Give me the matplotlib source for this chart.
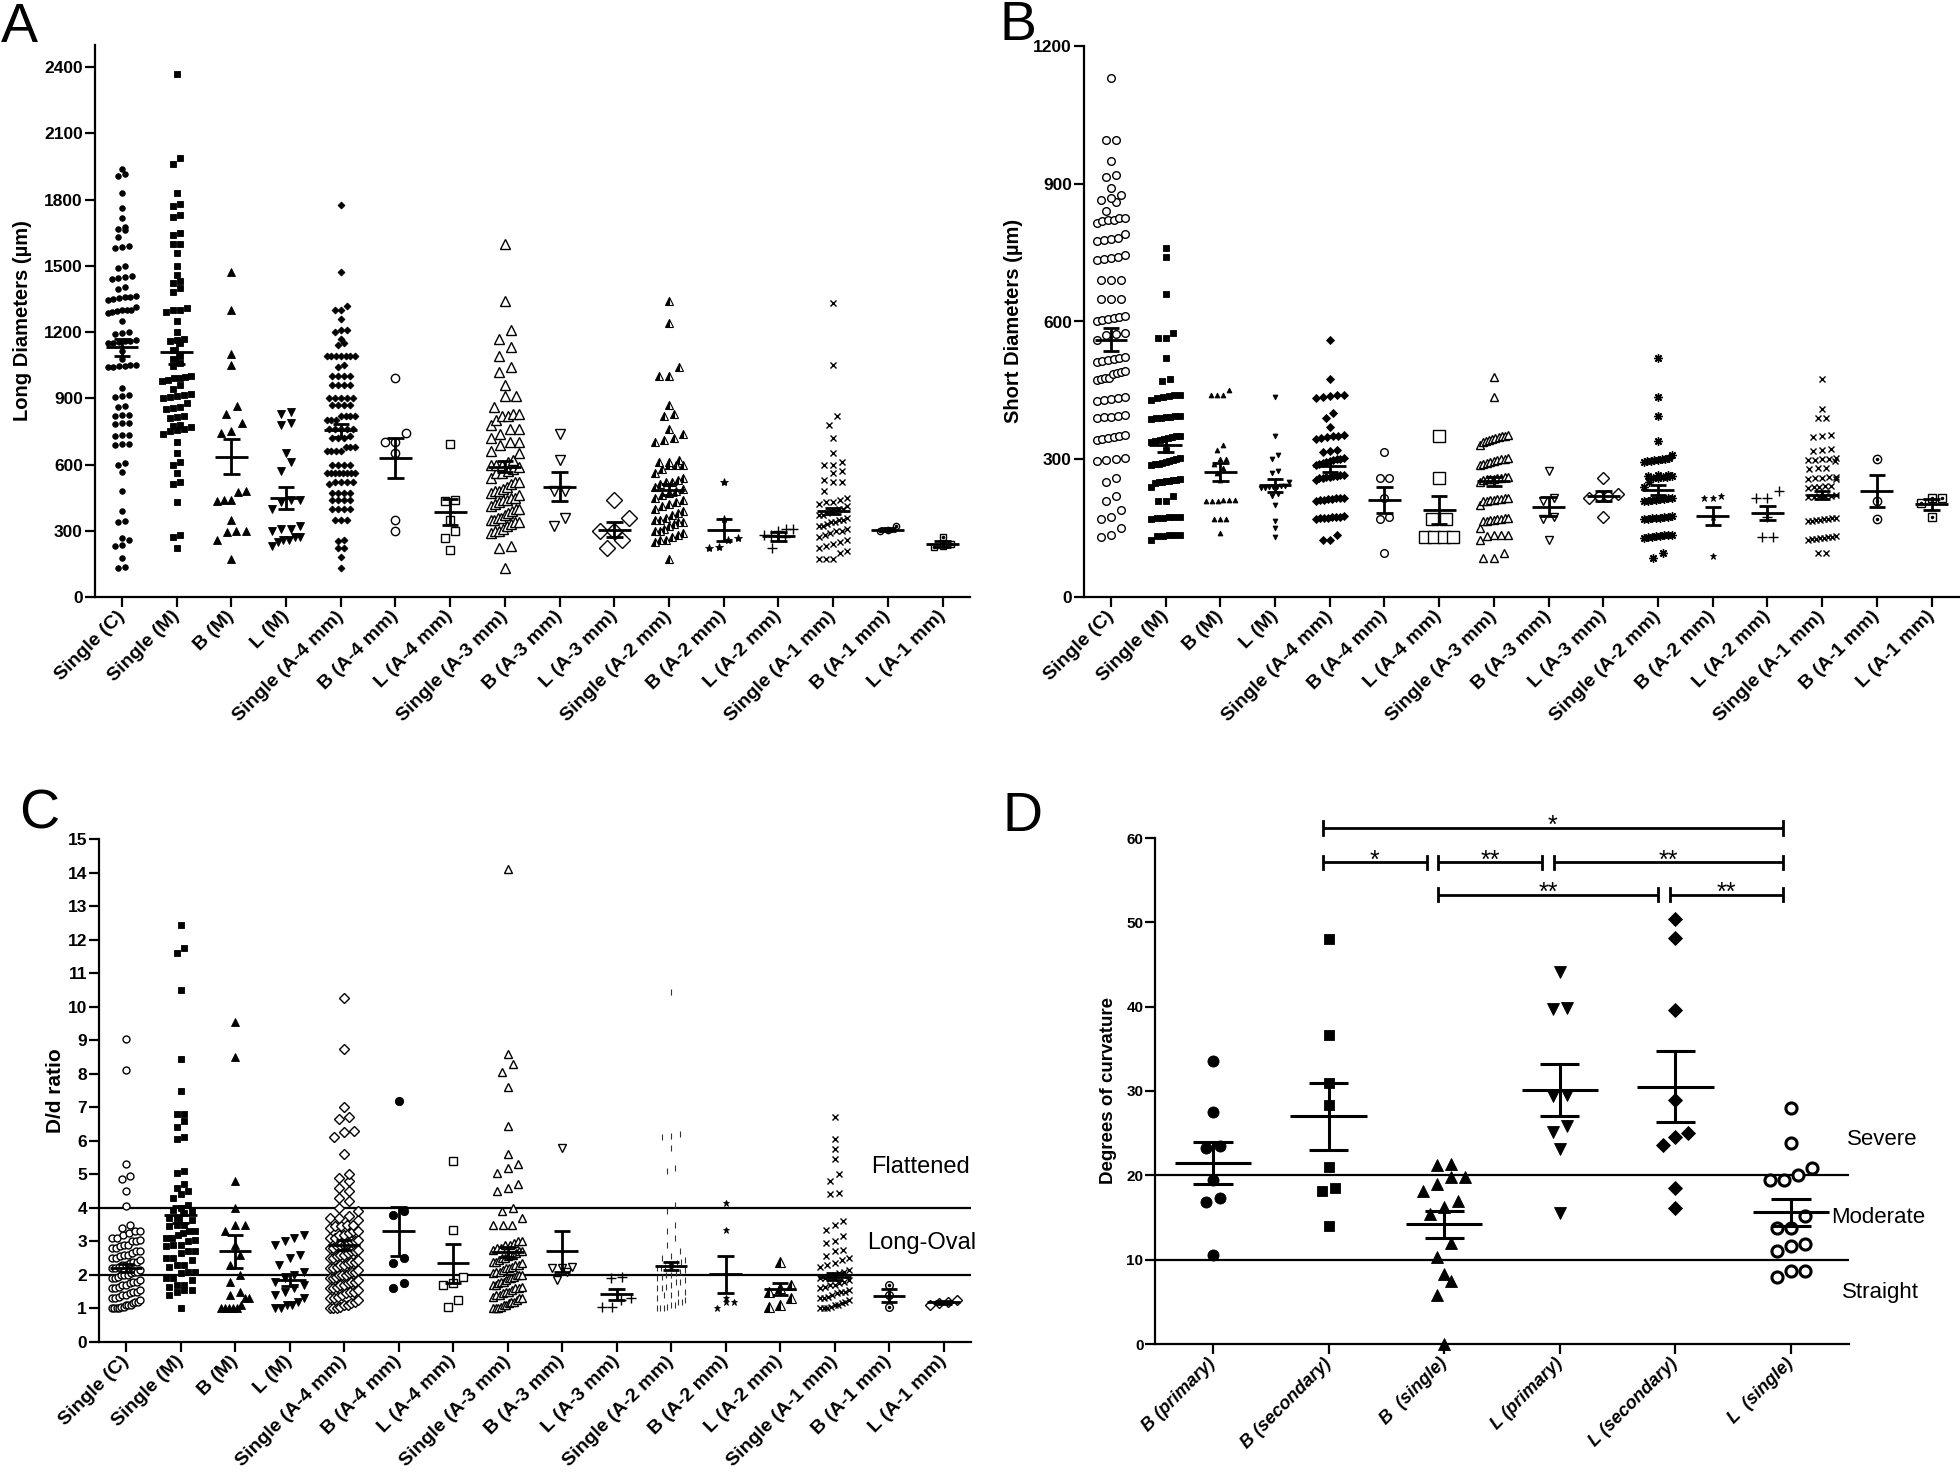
import numpy as np
import matplotlib
matplotlib.use("Agg")
import matplotlib.pyplot as plt

plt.rcParams['font.family'] = ['Liberation Sans', 'DejaVu Sans']

W, H = 1960, 1477

# ---- category labels ----
labels16 = ['Single (C)', 'Single (M)', 'B (M)', 'L (M)', 'Single (A-4 mm)', 'B (A-4 mm)',
            'L (A-4 mm)', 'Single (A-3 mm)', 'B (A-3 mm)', 'L (A-3 mm)', 'Single (A-2 mm)',
            'B (A-2 mm)', 'L (A-2 mm)', 'Single (A-1 mm)', 'B (A-1 mm)', 'L (A-1 mm)']
labels_d = ['B (primary)', 'B (secondary)', 'B  (single)', 'L (primary)', 'L (secondary)', 'L  (single)']

# ---- panel A: long diameters (um) ----
long_single_c = [1940, 1915, 1905, 1830, 1760, 1715, 1675, 1665, 1660, 1630, 1590, 1585, 1580, 1500, 1490,
                 1455, 1450, 1445, 1440, 1405, 1395, 1365, 1360, 1360, 1355, 1350, 1345, 1315, 1300, 1300,
                 1300, 1295, 1290, 1285, 1250, 1200, 1195, 1190, 1165, 1160, 1160, 1155, 1150, 1150, 1115,
                 1080, 1050, 1050, 1045, 1045, 1040, 1040, 945, 915, 910, 905, 865, 860, 825, 825, 820, 790,
                 790, 785, 735, 735, 730, 695, 695, 690, 605, 600, 565, 480, 390, 345, 340, 265, 260, 235,
                 230, 175, 135, 130]
long_single_m = [2370, 1990, 1960, 1830, 1780, 1770, 1730, 1720, 1650, 1640, 1600, 1600, 1560, 1500, 1460,
                 1430, 1420, 1400, 1380, 1310, 1300, 1300, 1290, 1250, 1200, 1170, 1165, 1160, 1150, 1120,
                 1090, 1080, 1060, 1045, 1000, 995, 990, 990, 985, 980, 960, 940, 920, 915, 910, 905, 900,
                 880, 860, 855, 850, 820, 815, 810, 780, 775, 770, 760, 755, 750, 740, 700, 650, 610, 600,
                 560, 520, 510, 430, 280, 270, 220]
long_b_m = [1470, 1300, 1100, 1050, 865, 830, 790, 750, 745, 480, 475, 440, 440, 435, 350, 300, 300, 295, 260, 170]
long_l_m = [840, 830, 790, 780, 650, 610, 570, 440, 440, 430, 400, 320, 310, 310, 300, 270, 270, 260, 260, 250, 230]
long_single_a4 = [1775, 1470, 1320, 1300, 1300, 1260, 1210, 1210, 1200, 1170, 1150, 1140, 1090, 1090, 1090,
                  1090, 1090, 1090, 1090, 1050, 1040, 1000, 1000, 1000, 1000, 960, 960, 960, 960, 900, 900,
                  900, 900, 900, 870, 870, 870, 870, 820, 820, 820, 820, 800, 800, 800, 760, 760, 760, 760,
                  760, 730, 720, 720, 720, 680, 680, 680, 660, 660, 660, 660, 600, 600, 600, 600, 560, 560,
                  560, 560, 560, 560, 560, 560, 520, 520, 520, 520, 510, 470, 470, 470, 470, 440, 440, 440,
                  440, 400, 400, 400, 400, 350, 350, 350, 260, 255, 220, 220, 180, 130]
long_b_a4 = [990, 745, 700, 700, 650, 350, 300]
long_l_a4 = [695, 440, 435, 350, 300, 265, 215]
long_single_a3 = [1600, 1340, 1210, 1170, 1130, 1090, 1040, 1020, 960, 910, 910, 860, 830, 830, 820, 820,
                  800, 780, 760, 760, 740, 720, 700, 700, 690, 660, 650, 620, 610, 600, 600, 600, 590, 580,
                  570, 560, 560, 540, 520, 520, 510, 500, 490, 480, 480, 470, 460, 450, 450, 440, 440, 430,
                  420, 410, 400, 400, 390, 380, 370, 360, 360, 350, 350, 340, 340, 330, 320, 310, 300, 300,
                  290, 230, 220, 130]
long_b_a3 = [740, 620, 480, 480, 360, 320]
long_l_a3 = [440, 360, 300, 300, 260, 220]
long_single_a2 = [1340, 1240, 1040, 1000, 1000, 870, 830, 820, 760, 740, 720, 710, 700, 620, 610, 610, 600,
                  600, 600, 580, 560, 540, 530, 520, 520, 510, 500, 490, 480, 470, 460, 450, 440, 430, 420,
                  410, 400, 390, 380, 370, 360, 350, 350, 340, 340, 330, 320, 310, 300, 300, 290, 280, 270,
                  260, 260, 250, 170]
long_b_a2 = [520, 355, 265, 260, 225, 220]
long_l_a2 = [310, 310, 300, 280, 280, 270, 220]
long_single_a1 = [1330, 1050, 820, 780, 720, 650, 610, 600, 600, 570, 560, 530, 520, 520, 480, 450, 440, 430,
                  430, 420, 410, 400, 400, 390, 390, 380, 370, 370, 360, 350, 350, 340, 340, 330, 320, 320,
                  310, 300, 300, 290, 280, 270, 260, 250, 240, 230, 220, 210, 200, 170, 170, 170]
long_b_a1 = [320, 305, 300]
long_l_a1 = [270, 240, 230, 225]
long_mean = [1130, 1110, 635, 450, 755, 630, 385, 590, 500, 305, 485, 305, 275, 390, 305, 240]
long_sem = [40, 55, 80, 50, 30, 90, 60, 25, 65, 35, 25, 50, 20, 15, 8, 12]

# ---- panel B: short diameters (um) ----
short_single_c = [1130, 995, 995, 950, 915, 920, 890, 875, 870, 865, 860, 840, 825, 825, 822, 820, 818, 815,
                  790, 782, 780, 778, 775, 745, 740, 738, 736, 734, 690, 690, 690, 650, 650, 650, 612, 610,
                  608, 606, 604, 600, 575, 572, 570, 560, 522, 520, 518, 516, 514, 512, 492, 490, 488, 486,
                  478, 476, 474, 472, 435, 433, 431, 429, 427, 397, 395, 393, 391, 389, 352, 350, 348, 346,
                  344, 342, 302, 300, 298, 296, 260, 250, 220, 210, 190, 175, 170, 150, 135, 130]
short_single_m = [760, 740, 660, 575, 565, 565, 520, 475, 470, 440, 440, 438, 436, 434, 430, 395, 395, 393,
                  391, 389, 387, 390, 350, 350, 348, 346, 344, 342, 340, 338, 320, 302, 300, 298, 296, 294,
                  292, 290, 288, 290, 256, 255, 254, 253, 252, 251, 250, 249, 240, 220, 210, 210, 175, 175,
                  174, 173, 172, 170, 135, 135, 134, 133, 132, 125]
short_b_m = [450, 440, 440, 440, 330, 320, 300, 300, 290, 280, 270, 255, 212, 212, 211, 210, 210, 209, 170,
             170, 170, 140]
short_l_m = [435, 350, 310, 300, 275, 270, 250, 242, 241, 240, 240, 239, 238, 237, 225, 220, 200, 165, 150, 130]
short_single_a4 = [560, 475, 440, 440, 438, 436, 434, 400, 390, 370, 352, 350, 350, 348, 346, 344, 320, 318,
                   316, 302, 300, 300, 298, 296, 294, 292, 290, 288, 266, 265, 264, 263, 262, 261, 260, 259,
                   255, 216, 215, 215, 214, 213, 212, 211, 210, 176, 175, 175, 174, 173, 172, 171, 170, 135,
                   125, 125]
short_b_a4 = [315, 260, 260, 215, 175, 170, 95]
short_l_a4 = [350, 260, 170, 170, 130, 130, 130, 130]
short_single_a3 = [480, 435, 352, 350, 350, 348, 346, 344, 342, 340, 338, 330, 302, 300, 300, 298, 296, 294,
                   292, 290, 288, 262, 261, 260, 259, 258, 257, 256, 255, 250, 216, 215, 214, 213, 212, 211,
                   210, 209, 200, 172, 171, 170, 169, 168, 167, 166, 165, 150, 136, 135, 134, 133, 125, 95,
                   85, 85]
short_b_a3 = [275, 215, 210, 175, 170, 125]
short_l_a3 = [260, 225, 220, 220, 215, 175]
short_single_a2 = [520, 435, 395, 340, 310, 302, 301, 300, 299, 298, 297, 296, 295, 266, 265, 264, 263, 262,
                   261, 260, 259, 250, 240, 216, 215, 214, 213, 212, 211, 210, 209, 176, 175, 174, 173, 172,
                   171, 170, 169, 136, 135, 134, 133, 132, 131, 130, 129, 95, 85]
short_b_a2 = [220, 215, 215, 175, 90]
short_l_a2 = [230, 215, 215, 175, 130, 130]
short_single_a1 = [475, 410, 390, 390, 352, 350, 348, 322, 320, 318, 302, 301, 300, 299, 298, 297, 282, 280,
                   278, 262, 261, 260, 259, 258, 257, 242, 241, 240, 239, 238, 222, 221, 220, 219, 218, 217,
                   172, 171, 170, 169, 168, 167, 166, 165, 132, 131, 130, 129, 128, 127, 126, 125, 95, 95]
short_b_a1 = [300, 210, 170]
short_l_a1 = [215, 215, 205, 175]
short_mean = [560, 330, 272, 243, 285, 212, 190, 252, 197, 220, 233, 177, 183, 222, 230, 202]
short_sem = [25, 15, 20, 15, 12, 28, 30, 10, 20, 10, 10, 20, 15, 8, 35, 12]

# ---- panel C: D/d ratio ----
ratio_single_c = [9.05, 8.1, 5.3, 4.95, 4.85, 4.5, 4.05, 3.5, 3.4, 3.3, 3.3, 3.25, 3.2, 3.1, 3.1, 3.05, 3.0,
                  3.0, 2.9, 2.9, 2.85, 2.8, 2.8, 2.7, 2.7, 2.65, 2.6, 2.6, 2.55, 2.5, 2.5, 2.45, 2.4, 2.4, 2.35,
                  2.3, 2.3, 2.25, 2.2, 2.2, 2.15, 2.1, 2.1, 2.05, 2.0, 2.0, 2.0, 1.95, 1.9, 1.9, 1.85, 1.8,
                  1.8, 1.75, 1.7, 1.7, 1.65, 1.6, 1.6, 1.55, 1.5, 1.5, 1.45, 1.4, 1.4, 1.35, 1.3, 1.3, 1.25,
                  1.2, 1.2, 1.15, 1.1, 1.1, 1.1, 1.05, 1.05, 1.0, 1.0, 1.0, 1.0]
ratio_single_m = [12.45, 11.75, 11.6, 10.5, 8.45, 7.5, 6.8, 6.8, 6.6, 6.4, 6.1, 6.05, 5.1, 5.05, 4.7, 4.6,
                  4.5, 4.4, 4.3, 4.1, 4.0, 3.95, 3.9, 3.85, 3.7, 3.7, 3.65, 3.5, 3.5, 3.45, 3.3, 3.3, 3.25,
                  3.2, 3.1, 3.1, 3.05, 3.0, 2.9, 2.9, 2.85, 2.7, 2.7, 2.65, 2.5, 2.5, 2.45, 2.3, 2.3, 2.25,
                  2.1, 2.1, 2.05, 1.9, 1.9, 1.85, 1.7, 1.7, 1.65, 1.55, 1.55, 1.5, 1.4, 1.0]
ratio_b_m = [9.55, 8.5, 4.8, 4.0, 3.5, 3.5, 3.3, 2.9, 2.6, 2.3, 2.0, 1.8, 1.5, 1.4, 1.3, 1.3, 1.1, 1.0, 1.0,
             1.0, 1.0, 1.0]
ratio_l_m = [3.2, 3.1, 3.0, 2.9, 2.6, 2.5, 2.3, 2.1, 2.0, 1.9, 1.8, 1.7, 1.6, 1.5, 1.4, 1.3, 1.2, 1.1, 1.1,
             1.0, 1.0]
ratio_single_a4 = [10.25, 8.75, 7.0, 6.7, 6.65, 6.3, 6.25, 6.1, 5.6, 5.0, 4.9, 4.8, 4.6, 4.5, 4.3, 4.2, 4.0,
                   3.9, 3.75, 3.7, 3.7, 3.65, 3.5, 3.5, 3.45, 3.45, 3.4, 3.3, 3.3, 3.25, 3.2, 3.2, 3.1, 3.1,
                   3.05, 3.0, 3.0, 2.95, 2.9, 2.9, 2.85, 2.8, 2.8, 2.75, 2.7, 2.7, 2.65, 2.6, 2.6, 2.55, 2.5,
                   2.5, 2.45, 2.4, 2.4, 2.35, 2.3, 2.3, 2.25, 2.2, 2.2, 2.15, 2.1, 2.1, 2.05, 2.0, 2.0, 2.0,
                   1.95, 1.9, 1.9, 1.85, 1.8, 1.8, 1.75, 1.7, 1.7, 1.65, 1.6, 1.6, 1.55, 1.5, 1.5, 1.45, 1.4,
                   1.35, 1.3, 1.3, 1.25, 1.2, 1.15, 1.1, 1.1, 1.05, 1.0, 1.0, 1.0]
ratio_b_a4 = [7.2, 3.9, 3.8, 2.5, 2.35, 1.75, 1.6]
ratio_l_a4 = [5.4, 3.35, 1.95, 1.75, 1.7, 1.25, 1.05]
ratio_single_a3 = [14.1, 8.6, 8.3, 8.05, 7.6, 6.45, 5.6, 5.3, 5.2, 5.05, 4.7, 4.6, 4.5, 4.0, 3.9, 3.7, 3.5,
                   3.5, 3.5, 3.0, 3.0, 2.95, 2.9, 2.9, 2.8, 2.8, 2.75, 2.7, 2.7, 2.65, 2.6, 2.6, 2.55, 2.5,
                   2.5, 2.45, 2.4, 2.4, 2.35, 2.3, 2.3, 2.25, 2.2, 2.2, 2.15, 2.1, 2.1, 2.05, 2.0, 2.0, 2.0,
                   1.95, 1.9, 1.9, 1.85, 1.8, 1.8, 1.75, 1.7, 1.7, 1.65, 1.6, 1.6, 1.55, 1.5, 1.5, 1.45, 1.4,
                   1.4, 1.35, 1.3, 1.3, 1.25, 1.2, 1.2, 1.15, 1.1, 1.1, 1.05, 1.0, 1.0, 1.0]
ratio_b_a3 = [5.8, 2.25, 2.2, 2.2, 2.1, 1.85]
ratio_l_a3 = [1.95, 1.9, 1.3, 1.25, 1.05, 1.05]
ratio_single_a2 = [10.45, 6.2, 6.15, 6.1, 5.8, 5.2, 5.1, 4.1, 3.9, 3.5, 3.3, 3.1, 2.9, 2.7, 2.55, 2.5, 2.45,
                   2.4, 2.35, 2.3, 2.3, 2.25, 2.2, 2.2, 2.15, 2.1, 2.05, 2.0, 2.0, 1.95, 1.9, 1.85, 1.8, 1.8,
                   1.7, 1.65, 1.6, 1.6, 1.5, 1.45, 1.4, 1.4, 1.3, 1.25, 1.2, 1.2, 1.1, 1.1, 1.05, 1.0, 1.0,
                   1.0]
ratio_b_a2 = [4.15, 3.35, 1.3, 1.2, 1.2, 1.0]
ratio_l_a2 = [2.4, 1.7, 1.6, 1.5, 1.3, 1.1, 1.05]
ratio_single_a1 = [6.7, 6.05, 5.75, 5.45, 5.0, 4.8, 4.45, 4.4, 3.6, 3.5, 3.35, 3.15, 3.0, 2.95, 2.75, 2.7,
                   2.55, 2.5, 2.45, 2.35, 2.3, 2.25, 2.15, 2.1, 2.05, 2.0, 1.95, 1.9, 1.9, 1.85, 1.8, 1.75,
                   1.7, 1.7, 1.65, 1.6, 1.55, 1.5, 1.5, 1.45, 1.4, 1.35, 1.3, 1.3, 1.25, 1.2, 1.15, 1.1, 1.1,
                   1.05, 1.0, 1.0, 1.0]
ratio_b_a1 = [1.7, 1.4, 1.05]
ratio_l_a1 = [1.25, 1.2, 1.15, 1.1]
ratio_mean = [2.2, 3.8, 2.7, 1.85, 2.9, 3.3, 2.35, 2.68, 2.7, 1.42, 2.28, 2.02, 1.57, 1.95, 1.38, 1.18]
ratio_sem = [0.12, 0.25, 0.5, 0.17, 0.15, 0.73, 0.58, 0.15, 0.62, 0.17, 0.12, 0.55, 0.18, 0.1, 0.2, 0.04]
ratio_cutoffs = [2, 4]

# ---- panel D: degrees of curvature ----
curv_b_primary = [33.6, 27.5, 23.5, 23.3, 19.5, 17.3, 16.8, 10.5]
curv_b_secondary = [48.0, 36.6, 30.9, 28.3, 21.0, 18.5, 18.2, 14.0]
curv_b_single = [21.4, 21.2, 19.8, 19.8, 19.0, 18.1, 17.0, 16.3, 15.4, 12.0, 10.3, 8.3, 7.5, 5.8, 0.0]
curv_l_primary = [44.1, 39.7, 39.8, 29.5, 29.4, 25.9, 25.1, 23.1, 15.5]
curv_l_secondary = [50.4, 48.1, 39.6, 28.9, 25.0, 24.5, 23.6, 18.5, 16.1]
curv_l_single = [28.0, 23.8, 20.9, 20.0, 19.5, 19.5, 15.2, 13.8, 13.8, 11.9, 11.6, 11.0, 8.7, 8.6, 8.0]
curv_mean = [21.5, 27.0, 14.2, 30.1, 30.5, 15.6]
curv_sem = [2.5, 4.0, 1.6, 3.1, 4.2, 1.6]
curv_cutoffs = [10, 20]
# comparisons: (from group, to group, label, row level in degrees)
curv_tests = [(1, 5, '*', 61.2), (1, 2, '*', 57.1), (2, 3, '**', 57.1), (3, 5, '**', 57.1),
              (2, 4, '**', 53.3), (4, 5, '**', 53.3)]

long_groups = [long_single_c, long_single_m, long_b_m, long_l_m, long_single_a4, long_b_a4, long_l_a4,
               long_single_a3, long_b_a3, long_l_a3, long_single_a2, long_b_a2, long_l_a2, long_single_a1,
               long_b_a1, long_l_a1]
short_groups = [short_single_c, short_single_m, short_b_m, short_l_m, short_single_a4, short_b_a4,
                short_l_a4, short_single_a3, short_b_a3, short_l_a3, short_single_a2, short_b_a2,
                short_l_a2, short_single_a1, short_b_a1, short_l_a1]
ratio_groups = [ratio_single_c, ratio_single_m, ratio_b_m, ratio_l_m, ratio_single_a4, ratio_b_a4,
                ratio_l_a4, ratio_single_a3, ratio_b_a3, ratio_l_a3, ratio_single_a2, ratio_b_a2,
                ratio_l_a2, ratio_single_a1, ratio_b_a1, ratio_l_a1]
curv_groups = [curv_b_primary, curv_b_secondary, curv_b_single, curv_l_primary, curv_l_secondary,
               curv_l_single]

# marker styles: (marker, size, kind)
style_a = [('o', 4, 'fill'), ('s', 4, 'fill'), ('^', 6, 'fill'), ('v', 6, 'fill'), ('D', 3.5, 'fill'),
           ('o', 6, 'open'), ('s', 6, 'open'), ('^', 6.5, 'open'), ('v', 6.5, 'open'), ('D', 8.5, 'open'),
           ('^', 6, 'half'), ('*', 6, 'fill'), ('+', 7, 'line'), ('x', 5, 'line'), ('o', 4.5, 'dot'),
           ('s', 5, 'dot')]
style_b = [('o', 5.5, 'open'), ('s', 4.5, 'fill'), ('^', 3.5, 'fill'), ('v', 3.5, 'fill'), ('D', 4, 'fill'),
           ('o', 5.5, 'open'), ('s', 8, 'open'), ('^', 6, 'open'), ('v', 6, 'open'), ('D', 6, 'open'),
           ((8, 2, 0), 6, 'line'), ('*', 5, 'fill'), ('+', 6.5, 'line'), ('x', 5, 'line'), ('o', 6, 'dot'),
           ('s', 6, 'dot')]
style_c = [('o', 5, 'open'), ('s', 4.5, 'fill'), ('^', 6, 'fill'), ('v', 6, 'fill'), ('D', 5.5, 'open'),
           ('o', 6, 'fill'), ('s', 6, 'open'), ('^', 6, 'open'), ('v', 6, 'open'), ('+', 6.5, 'line'),
           ('|', 5, 'thin'), ('*', 5, 'fill'), ('^', 6.5, 'half'), ('x', 5, 'line'), ('o', 5.5, 'dot'),
           ('D', 5, 'open')]
style_d = [('o', 8, 'fill'), ('s', 7.5, 'fill'), ('^', 8, 'fill'), ('v', 8, 'fill'), ('D', 7, 'fill'),
           ('o', 8, 'thick')]


def rect(l, r, t, b):
    return [l / W, 1 - b / H, (r - l) / W, (b - t) / H]


def swarm(vals, binw, dx, maxhw):
    v = np.sort(np.asarray(vals, float))
    xs = np.zeros(len(v))
    i = 0
    while i < len(v):
        j = i
        while j + 1 < len(v) and v[j + 1] - v[i] < binw:
            j += 1
        n = j - i + 1
        step = dx
        if n > 1 and (n - 1) * dx > 2 * maxhw:
            step = 2 * maxhw / (n - 1)
        xs[i:j + 1] = (np.arange(n) - (n - 1) / 2) * step
        i = j + 1
    return xs, v


def draw_points(ax, x, y, st):
    m, ms, kind = st
    kw = dict(ls='none', marker=m, ms=ms, clip_on=False, zorder=3)
    if kind == 'fill':
        ax.plot(x, y, mfc='k', mec='k', mew=0.6, **kw)
    elif kind == 'open':
        ax.plot(x, y, mfc='white', mec='k', mew=1.0, **kw)
    elif kind == 'thick':
        ax.plot(x, y, mfc='white', mec='k', mew=2.2, **kw)
    elif kind == 'half':
        ax.plot(x, y, mfc='k', mfcalt='white', fillstyle='left', mec='k', mew=0.8, **kw)
    elif kind == 'dot':
        ax.plot(x, y, mfc='white', mec='k', mew=1.0, **kw)
        ax.plot(x, y, ls='none', marker='o', ms=1.5, mfc='k', mec='k', clip_on=False, zorder=4)
    elif kind == 'thin':
        ax.plot(x, y, mec='#333333', mew=0.8, **kw)
    else:
        ax.plot(x, y, mec='k', mew=1.0, **kw)


def panel(ax, groups, means, sems, styles, labels, ylim, yticks, px_per_unit, units_per_px,
          xfs, yfs, italic=False, mhw=0.3, chw=0.15, lw=2.0):
    for i, vals in enumerate(groups):
        st = styles[i]
        mpx = st[1] * 1.39
        xo, yv = swarm(vals, mpx * 1.3 * units_per_px, mpx * 1.25 / px_per_unit, 0.26)
        draw_points(ax, i + xo, yv, st)
        m, s = means[i], sems[i]
        ax.plot([i - mhw, i + mhw], [m, m], color='k', lw=lw, zorder=5, solid_capstyle='butt')
        ax.plot([i, i], [m - s, m + s], color='k', lw=lw, zorder=5, solid_capstyle='butt')
        for yy in (m - s, m + s):
            ax.plot([i - chw, i + chw], [yy, yy], color='k', lw=lw, zorder=5, solid_capstyle='butt')
    ax.set_xlim(-0.5, len(groups) - 0.5)
    ax.set_ylim(*ylim)
    ax.set_xticks(range(len(groups)))
    ax.set_xticklabels(labels, rotation=45, ha='right', va='center', rotation_mode='anchor',
                       fontsize=xfs, fontweight='bold', fontstyle='italic' if italic else 'normal')
    ax.set_yticks(yticks)
    ax.set_yticklabels([str(t) for t in yticks], fontsize=yfs, fontweight='bold')
    for sp in ('top', 'right'):
        ax.spines[sp].set_visible(False)
    for sp in ('left', 'bottom'):
        ax.spines[sp].set_linewidth(1.6)
    ax.tick_params(direction='out', length=7, width=1.6, pad=1.5)
    ax.tick_params(axis='x', pad=5)
    ax.patch.set_visible(False)


fig = plt.figure(figsize=(W / 100, H / 100), dpi=100)

# A
axA = fig.add_axes(rect(94.6, 969.9, 45, 597))
panel(axA, long_groups, long_mean, long_sem, style_a, labels16, (0, 2500),
      [0, 300, 600, 900, 1200, 1500, 1800, 2100, 2400], 54.7, 2500 / 552, 14, 12.5)

# B
axB = fig.add_axes(rect(1083.6, 1958.9, 46, 597))
panel(axB, short_groups, short_mean, short_sem, style_b, labels16, (0, 1200),
      [0, 300, 600, 900, 1200], 54.7, 1200 / 551, 14, 12.5)

# C
axC = fig.add_axes(rect(98.75, 970.75, 839, 1342))
panel(axC, ratio_groups, ratio_mean, ratio_sem, style_c, labels16, (0, 15),
      list(range(16)), 54.5, 15 / 503, 14, 12.5)
for c in ratio_cutoffs:
    axC.axhline(c, color='k', lw=1.6, zorder=2)
axC.text(14.57, 5.23, 'Flattened', ha='center', va='center', fontsize=17)
axC.text(14.6, 2.94, 'Long-Oval', ha='center', va='center', fontsize=17, clip_on=False)

# D
axD = fig.add_axes(rect(1155.2, 1848.8, 838, 1344))
panel(axD, curv_groups, curv_mean, curv_sem, style_d, labels_d, (0, 60),
      [0, 10, 20, 30, 40, 50, 60], 115.6, 60 / 506, 13, 11, italic=True, mhw=0.33, chw=0.17, lw=2.2)
for c in curv_cutoffs:
    axD.axhline(c, color='k', lw=1.6, zorder=2)
axD.text(5.79, 24.2, 'Severe', ha='center', va='center', fontsize=16, clip_on=False)
axD.text(5.75, 15.0, 'Moderate', ha='center', va='center', fontsize=16, clip_on=False)
axD.text(5.77, 6.05, 'Straight', ha='center', va='center', fontsize=16, clip_on=False)

starts = {(a, lvl) for a, b, t, lvl in curv_tests}
for a, b, txt, lvl in curv_tests:
    x0 = a - 0.05
    x1 = b - 0.07 - (0.08 if (b, lvl) in starts else 0)
    axD.plot([x0, x1], [lvl, lvl], color='k', lw=2, clip_on=False, solid_capstyle='butt')
    for xx in (x0, x1):
        axD.plot([xx, xx], [lvl - 0.8, lvl + 0.8], color='k', lw=2, clip_on=False)
    axD.text((x0 + x1) / 2, lvl - 0.6, txt, ha='center', va='baseline', fontsize=18, clip_on=False)

# axis titles and panel letters
def fx(x):
    return x / W


def fy(y):
    return 1 - y / H


fig.text(fx(23), fy(321), 'Long Diameters (µm)', rotation=90, ha='center', va='center',
         fontsize=14.5, fontweight='bold')
fig.text(fx(1013), fy(321), 'Short Diameters (µm)', rotation=90, ha='center', va='center',
         fontsize=14.5, fontweight='bold')
fig.text(fx(55), fy(1091), 'D/d ratio', rotation=90, ha='center', va='center',
         fontsize=15, fontweight='bold')
fig.text(fx(1108), fy(1091), 'Degrees of curvature', rotation=90, ha='center', va='center',
         fontsize=13.5, fontweight='bold')

for letter, x, y in [('A', 1, 42), ('B', 999, 40), ('C', 19, 829), ('D', 1002, 831)]:
    fig.text(fx(x), fy(y), letter, ha='left', va='baseline', fontsize=40)

fig.savefig('out.png', dpi=100, facecolor='white')
